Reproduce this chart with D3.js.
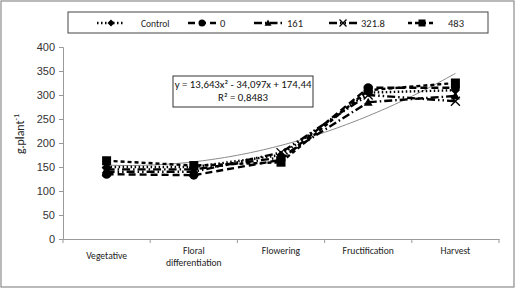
<!DOCTYPE html>
<html>
<head>
<meta charset="utf-8">
<script src="https://cdn.jsdelivr.net/npm/d3@7"></script>
<style>
  body { margin: 0; background: #fff; }
  svg { display: block; font-family: Calibri, Carlito, "Open Sans", sans-serif; }
</style>
</head>
<body>
<svg id="chart" width="516" height="290"></svg>
<script>
// Data
const stages = ["Vegetative", "Floral differentiation", "Flowering", "Fructification", "Harvest"];
const seriesNames = ["Control", "0", "161", "321.8", "483"];
const controlVals = [150, 150, 175, 305, 310];
const dose0Vals = [135, 133, 165, 315, 315];
const dose161Vals = [145, 145, 170, 285, 298];
const dose321Vals = [140, 140, 180, 300, 287];
const dose483Vals = [163, 153, 160, 310, 325];
const yTicks = [0, 50, 100, 150, 200, 250, 300, 350, 400];
const trendCoef = [13.643, -34.097, 174.44]; // from the equation on the chart
const trendText = ["y = 13,643x² - 34,097x + 174,44", "R² = 0,8483"];

const allVals = [controlVals, dose0Vals, dose161Vals, dose321Vals, dose483Vals];

// Styles per series
const styles = [
  { dash: "1.5,2.5", marker: "diamond" },
  { dash: "7,4", marker: "circle" },
  { dash: "8,3,1.5,3", marker: "triangle" },
  { dash: "8,3,1.5,3,1.5,3", marker: "x" },
  { dash: "4,3", marker: "square" }
];

const svg = d3.select("#chart");

// outer frame
svg.append("rect")
  .attr("x", 1).attr("y", 1).attr("width", 513).attr("height", 286)
  .attr("fill", "none").attr("stroke", "#8c8c8c").attr("stroke-width", 1.2);

const x = d3.scaleBand().domain(stages).range([63, 499]);
const y = d3.scaleLinear().domain([0, 400]).range([239, 47]);
const xi = d3.scaleLinear().domain([1, 5]).range([x(stages[0]) + x.bandwidth() / 2, x(stages[4]) + x.bandwidth() / 2]);

// Y axis
const yAxis = svg.append("g")
  .attr("transform", "translate(63,0)")
  .call(d3.axisLeft(y).tickValues(yTicks).tickSize(4).tickPadding(4));
yAxis.select(".domain").attr("stroke", "#9a9a9a");
yAxis.selectAll(".tick line").attr("stroke", "#9a9a9a");
yAxis.selectAll("text").attr("font-size", "11px").attr("fill", "#333");

// X axis
const xAxis = svg.append("g")
  .attr("transform", "translate(0,239)")
  .call(d3.axisBottom(x).tickSize(0).tickFormat(""));
xAxis.select(".domain").attr("stroke", "#9a9a9a");
xAxis.selectAll(".tick").remove();
const bounds = stages.map(s => x(s)).concat([x.range()[1]]);
xAxis.selectAll("line.bound")
  .data(bounds)
  .enter().append("line")
  .attr("x1", d => d).attr("x2", d => d)
  .attr("y1", 0).attr("y2", 4)
  .attr("stroke", "#9a9a9a");

// category labels
const labelLines = { "Vegetative": ["Vegetative"], "Floral differentiation": ["Floral", "differentiation"] };
stages.forEach(s => {
  const lines = labelLines[s] || [s];
  const cx = x(s) + x.bandwidth() / 2;
  const y0 = s === "Vegetative" ? 259 : 254;
  lines.forEach((t, i) => {
    svg.append("text")
      .attr("x", cx).attr("y", y0 + i * 11.5)
      .attr("text-anchor", "middle")
      .attr("font-size", "9.6px").attr("fill", "#222")
      .text(t);
  });
});

// Y title
svg.append("text")
  .attr("transform", "translate(24,134) rotate(-90)")
  .attr("text-anchor", "middle")
  .attr("font-size", "12px").attr("fill", "#222")
  .html('g.plant<tspan dy="-5" font-size="8px">-1</tspan>');

// trendline
const trendPts = d3.range(1, 5.001, 0.05).map(t => [t, trendCoef[0] * t * t + trendCoef[1] * t + trendCoef[2]]);
svg.append("path")
  .datum(trendPts)
  .attr("fill", "none").attr("stroke", "#8a8a8a").attr("stroke-width", 1)
  .attr("d", d3.line().x(d => xi(d[0])).y(d => y(d[1])).curve(d3.curveBasis));

// markers
function drawMarker(g, type, cx, cy, s) {
  if (type === "diamond") {
    g.append("path").attr("d", `M${cx},${cy - s}L${cx + s},${cy}L${cx},${cy + s}L${cx - s},${cy}Z`).attr("fill", "#000");
  } else if (type === "circle") {
    g.append("circle").attr("cx", cx).attr("cy", cy).attr("r", s).attr("fill", "#000");
  } else if (type === "triangle") {
    g.append("path").attr("d", `M${cx},${cy - s}L${cx + s},${cy + s * 0.8}L${cx - s},${cy + s * 0.8}Z`).attr("fill", "#000");
  } else if (type === "x") {
    g.append("path").attr("d", `M${cx - s},${cy - s}L${cx + s},${cy + s}M${cx - s},${cy + s}L${cx + s},${cy - s}`)
      .attr("stroke", "#000").attr("stroke-width", 1.3);
  } else if (type === "square") {
    g.append("rect").attr("x", cx - s).attr("y", cy - s).attr("width", 2 * s).attr("height", 2 * s).attr("fill", "#000");
  }
}

const line = d3.line().x((d, i) => x(stages[i]) + x.bandwidth() / 2).y(d => y(d));
allVals.forEach((vals, k) => {
  const g = svg.append("g");
  g.append("path")
    .datum(vals)
    .attr("fill", "none").attr("stroke", "#000").attr("stroke-width", 2.4)
    .attr("stroke-dasharray", styles[k].dash)
    .attr("d", line);
  vals.forEach((v, i) => drawMarker(g, styles[k].marker, x(stages[i]) + x.bandwidth() / 2, y(v), 4.5));
});

// equation box
svg.append("rect")
  .attr("x", 173).attr("y", 76).attr("width", 140).attr("height", 31)
  .attr("fill", "#fff").attr("stroke", "#333").attr("stroke-width", 1);
trendText.forEach((t, i) => {
  svg.append("text")
    .attr("x", 243).attr("y", 88 + i * 13)
    .attr("text-anchor", "middle")
    .attr("font-size", "10.8px").attr("fill", "#111")
    .text(t);
});

// legend
svg.append("rect")
  .attr("x", 68).attr("y", 12).attr("width", 420).attr("height", 21)
  .attr("fill", "#fff").attr("stroke", "#444").attr("stroke-width", 1);
const legX = [97, 188, 254, 329, 408];
const legLabelX = [141, 220, 287, 361, 448];
seriesNames.forEach((n, k) => {
  const g = svg.append("g");
  g.append("line")
    .attr("x1", legX[k]).attr("x2", legX[k] + 28).attr("y1", 23).attr("y2", 23)
    .attr("stroke", "#000").attr("stroke-width", 2.4)
    .attr("stroke-dasharray", styles[k].dash);
  drawMarker(g, styles[k].marker, legX[k] + 14, 23, 3.5);
  svg.append("text")
    .attr("x", legLabelX[k]).attr("y", 26.5)
    .attr("font-size", k === 0 ? "9.5px" : "10.5px").attr("fill", "#222")
    .text(n);
});
</script>
</body>
</html>
